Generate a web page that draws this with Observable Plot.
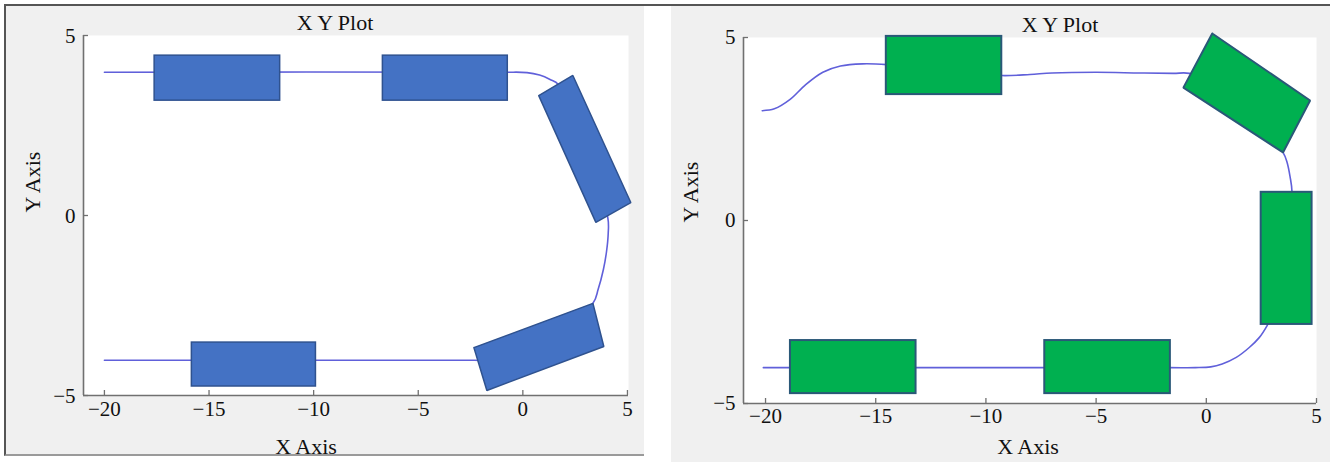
<!DOCTYPE html>
<html>
<head>
<meta charset="utf-8">
<script src="https://cdn.jsdelivr.net/npm/d3@7"></script>
<script src="https://cdn.jsdelivr.net/npm/@observablehq/plot@0.6"></script>
<style>
  html, body { margin: 0; padding: 0; background: #fff; }
  #wrap { position: relative; width: 1330px; height: 462px; overflow: hidden; background: #fff; }
  .panel { position: absolute; }
  .bg { position: absolute; background: #f0f0f0; }
</style>
</head>
<body>
<div id="wrap">
  <div class="bg" style="left:4px;top:4px;width:638px;height:450px;border-left:2px solid #555;border-bottom:2px solid #9a9a9a;"></div>
  <div class="bg" style="left:671px;top:4px;width:659px;height:458px;"></div>
  <div style="position:absolute;left:4px;top:4px;width:1326px;height:2px;background:#555;"></div>
  <div id="left" class="panel" style="left:0px;top:0px;width:645px;height:462px;"></div>
  <div id="right" class="panel" style="left:665px;top:0px;width:665px;height:462px;"></div>
</div>
<script>
// ---------- data ----------
const titleText = "X Y Plot";
const xLabel = "X Axis";
const yLabel = "Y Axis";
const xTicks = [-20, -15, -10, -5, 0, 5];
const yTicks = [-5, 0, 5];

// Left chart: guide curve
const leftPathX = [-20, -1, 0.2, 0.8, 1.3, 1.7, 2.9, 4.06, 4.08, 4.0, 3.85, 3.6, 3.35, 0.8, -1.5, -2.34, -20];
const leftPathY = [3.98, 3.98, 3.97, 3.9, 3.78, 3.64, 1.9, -0.06, -0.5, -1.0, -1.5, -2.05, -2.44, -3.6, -4.02, -4.02, -4.02];
// Left chart: axis-aligned boxes
const leftBoxX1 = [-17.6, -6.69, -15.82];
const leftBoxX2 = [-11.6, -0.72, -9.89];
const leftBoxY1 = [3.19, 3.19, -4.75];
const leftBoxY2 = [4.44, 4.44, -3.53];
// Left chart: tilted boxes (corner lists)
const leftTiltD = [[0.76, 3.33], [2.39, 3.89], [5.16, 0.36], [3.49, -0.19]];
const leftTiltE = [[-2.34, -3.67], [3.35, -2.44], [3.87, -3.64], [-1.72, -4.86]];

// Right chart: guide curve
const rightPathX = [-20.15, -19.6, -18.9, -18.2, -17.4, -16.6, -15.6, -14.5, -12, -9.28, -8, -7, -5, -3, -1.5, -0.77, 0.6, 2.2, 3.48, 3.66, 3.8, 3.89, 3.7, 3.3, 2.76, 2.4, 1.95, 1.36, 0.72, 0.2, -0.5, -1.7, -20.1];
const rightPathY = [3.0, 3.05, 3.3, 3.7, 4.05, 4.22, 4.28, 4.26, 4.1, 3.96, 3.99, 4.03, 4.05, 4.03, 4.02, 4.02, 3.7, 2.8, 1.86, 1.6, 1.2, 0.77, -1.0, -2.2, -2.87, -3.2, -3.47, -3.74, -3.92, -4.0, -4.02, -4.02, -4.02];
// Right chart: axis-aligned boxes
const rightBoxX1 = [-14.52, 2.49, -18.87, -7.33];
const rightBoxX2 = [-9.28, 4.80, -13.17, -1.63];
const rightBoxY1 = [3.44, -2.84, -4.73, -4.73];
const rightBoxY2 = [5.03, 0.77, -3.28, -3.28];
// Right chart: tilted box
const rightTiltG = [[0.27, 5.11], [4.71, 3.28], [3.48, 1.86], [-1.04, 3.63]];

// ---------- helpers ----------
const zip = (xs, ys) => xs.map((x, i) => ({x, y: ys[i]}));
const boxes = (x1, x2, y1, y2) => x1.map((v, i) => ({x1: v, x2: x2[i], y1: y1[i], y2: y2[i]}));
const polys = (list) => list.flatMap((corners, id) =>
  [...corners, corners[0]].map(([x, y]) => ({id, x, y})));

function panel(o) {
  const frameH = o.height - o.marginTop - o.marginBottom;
  const frameW = o.width - o.marginLeft - o.marginRight;
  const axisColor = "#707070";
  return Plot.plot({
    width: o.width, height: o.height,
    marginLeft: o.marginLeft, marginRight: o.marginRight,
    marginTop: o.marginTop, marginBottom: o.marginBottom,
    x: {domain: o.xDomain, label: null},
    y: {domain: [-5, 5], label: null},
    style: {background: "transparent", color: "#111", fontFamily: "'Liberation Serif', 'Times New Roman', serif", fontSize: "21px", overflow: "visible"},
    marks: [
      Plot.frame({fill: "white", stroke: "none"}),
      Plot.line(o.path, {x: "x", y: "y", curve: "catmull-rom", stroke: "#6060da", strokeWidth: 1.6}),
      Plot.rect(o.boxes, {x1: "x1", x2: "x2", y1: "y1", y2: "y2", fill: o.fill, stroke: o.stroke, strokeWidth: o.sw}),
      Plot.line(o.tilted, {x: "x", y: "y", z: "id", fill: o.fill, stroke: o.stroke, strokeWidth: o.sw, strokeLinejoin: "miter"}),
      // axis lines
      Plot.ruleY([-5], {stroke: axisColor, strokeWidth: 1.6}),
      Plot.ruleX([o.xDomain[0]], {stroke: axisColor, strokeWidth: 1.6}),
      // inward tick marks
      Plot.ruleX(xTicks, {stroke: axisColor, strokeWidth: 1.3, insetTop: frameH - 5}),
      Plot.ruleY(yTicks, {stroke: axisColor, strokeWidth: 1.3, insetRight: frameW - 5}),
      // tick labels
      Plot.axisX(xTicks, {tickSize: 0, tickPadding: o.xPad, label: null, fontSize: 21}),
      Plot.axisY(yTicks, {tickSize: 0, tickPadding: 8, dy: o.yDy, label: null, fontSize: 21}),
      // titles
      Plot.text([titleText], {text: d => d, frameAnchor: "top", lineAnchor: "middle", dx: o.titleDx, dy: o.titleDy, fontSize: 22}),
      Plot.text([xLabel], {text: d => d, frameAnchor: "bottom", lineAnchor: "middle", dx: o.xLabDx, dy: o.xLabDy, fontSize: 22}),
      Plot.text([yLabel], {text: d => d, frameAnchor: "left", lineAnchor: "middle", rotate: -90, dx: o.yLabDx, dy: o.yLabDy, fontSize: 22})
    ]
  });
}

document.getElementById("left").append(panel({
  width: 645, height: 462, marginLeft: 83, marginRight: 17, marginTop: 35, marginBottom: 67,
  xDomain: [-21, 5.05],
  path: zip(leftPathX, leftPathY),
  boxes: boxes(leftBoxX1, leftBoxX2, leftBoxY1, leftBoxY2),
  tilted: polys([leftTiltD, leftTiltE]),
  fill: "#4472c4", stroke: "#2f528f", sw: 1.5,
  xPad: 6, yDy: 1,
  titleDx: -21, titleDy: -13, xLabDx: -50, xLabDy: 51, yLabDx: -51, yLabDy: -3
}));

document.getElementById("right").append(panel({
  width: 665, height: 462, marginLeft: 78, marginRight: 14, marginTop: 37, marginBottom: 59,
  xDomain: [-21, 5],
  path: zip(rightPathX, rightPathY),
  boxes: boxes(rightBoxX1, rightBoxX2, rightBoxY1, rightBoxY2),
  tilted: polys([rightTiltG]),
  fill: "#00b050", stroke: "#2a5878", sw: 2,
  xPad: 5, yDy: 0,
  titleDx: 30, titleDy: -13, xLabDx: -2, xLabDy: 43, yLabDx: -53, yLabDy: 2
}));
</script>
</body>
</html>
